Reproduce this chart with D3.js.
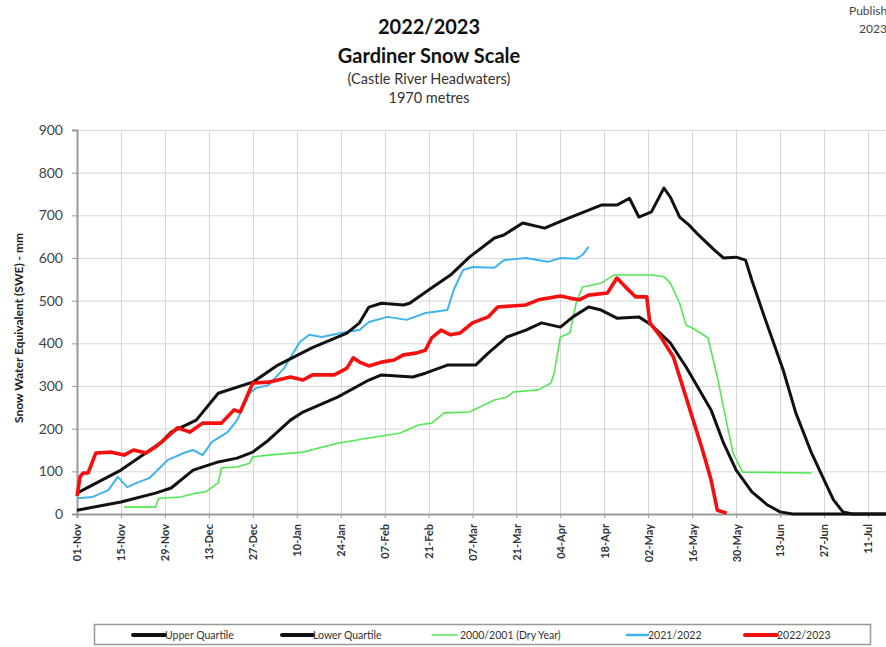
<!DOCTYPE html>
<html>
<head>
<meta charset="utf-8">
<script src="https://cdn.jsdelivr.net/npm/d3@7"></script>
<style>
  body { margin: 0; background: #fff; }
  svg { display: block; font-family: Lato, "Open Sans", sans-serif; }
</style>
</head>
<body>
<script>
// tick labels, every 14 days from 01-Nov (day 0)
var tickLabels = ["01-Nov", "15-Nov", "29-Nov", "13-Dec", "27-Dec", "10-Jan", "24-Jan",
  "07-Feb", "21-Feb", "07-Mar", "21-Mar", "04-Apr", "18-Apr", "02-May", "16-May",
  "30-May", "13-Jun", "27-Jun", "11-Jul"];
var yTicks = [0, 100, 200, 300, 400, 500, 600, 700, 800, 900];

// series: [day since 01-Nov, SWE mm]
var upperQuartile = [[0,49],[14,103],[27,169],[30,192],[38,220],[45,283],[56,309],[64,349],[75,390],
  [86,424],[90,448],[93,485],[97,494],[104,490],[106,494],[112,525],[119,560],[125,602],[133,647],
  [136,654],[142,682],[149,670],[155,689],[167,724],[172,724],[176,740],[179,696],[183,708],[187,764],
  [189,743],[192,696],[195,677],[198,654],[203,619],[206,600],[210,602],[213,595],[215,548],[219,462],
  [225,337],[229,237],[234,143],[238,80],[241,33],[244,5],[247,0],[272,0]];
var lowerQuartile = [[0,9],[14,28],[25,49],[30,61],[37,103],[45,122],[51,131],[56,145],[61,173],
  [68,220],[72,239],[83,274],[93,314],[97,326],[107,321],[111,330],[118,349],[127,349],[131,377],
  [137,415],[143,431],[148,448],[154,438],[158,462],[163,485],[167,478],[172,459],[179,462],
  [183,443],[189,401],[194,345],[202,244],[206,166],[210,103],[215,52],[220,21],[224,5],[228,0],[272,0]];
var dryYear = [[15,16],[25,16],[26,37],[33,40],[38,49],[41,52],[45,73],[46,108],[51,110],[55,119],
  [56,134],[61,138],[72,145],[83,166],[93,178],[103,190],[109,209],[113,213],[117,237],[125,239],
  [133,267],[137,274],[139,286],[147,291],[151,307],[152,330],[154,415],[157,424],[159,494],
  [161,532],[167,541],[171,560],[183,560],[187,556],[189,541],[192,494],[194,443],[196,436],
  [201,413],[204,321],[207,213],[209,143],[212,98],[215,98],[234,96]];
var season2122 = [[0,37],[5,40],[10,56],[13,87],[16,63],[19,73],[23,84],[29,127],[34,143],[37,150],
  [40,138],[43,169],[48,192],[51,220],[55,283],[57,295],[61,302],[66,342],[71,403],[74,420],
  [78,415],[86,427],[90,431],[93,450],[99,462],[105,455],[111,471],[118,478],[120,525],[123,572],
  [126,579],[133,577],[136,595],[143,600],[150,591],[154,600],[159,598],[161,607],[163,626]];
var season2223 = [[0,42],[1,88],[2,96],[3.5,96],[6,143],[11,145],[15,138],[18,150],[22,143],[25,157],
  [27,169],[32,202],[36,192],[40,213],[46,213],[50,244],[52,239],[56,307],[61,309],[68,321],
  [72,314],[75,326],[82,326],[86,342],[88,366],[90,356],[93,347],[97,356],[101,361],[104,373],
  [108,377],[111,384],[113,413],[116,431],[119,420],[122,424],[126,448],[131,462],[134,485],
  [143,490],[147,502],[154,511],[157,506],[160,502],[163,513],[169,518],[172,553],[175,530],
  [178,509],[181.5,509],[182.5,448],[186,415],[190,368],[193,298],[196,227],[199,157],[202,80],
  [204,9],[207,2]];

var legendNames = ["Upper Quartile", "Lower Quartile", "2000/2001  (Dry Year)", "2021/2022", "2022/2023"];

var width = 886, height = 647;
var svg = d3.select("body").append("svg")
  .attr("width", width)
  .attr("height", height);

var x = d3.scaleLinear().domain([0, 272]).range([77, 77 + 272 * 791 / 252]);
var y = d3.scaleLinear().domain([0, 900]).range([514, 130]);
var tickDays = tickLabels.map(function (d, i) { return i * 14; });

// titles
var titles = [
  { t: "2022/2023", y: 34, s: 20, w: "bold" },
  { t: "Gardiner Snow Scale", y: 63, s: 20, w: "bold" },
  { t: "(Castle River Headwaters)", y: 84, s: 14.5, w: "normal" },
  { t: "1970 metres", y: 103, s: 14.5, w: "normal" }
];
svg.selectAll(".title").data(titles).enter().append("text")
  .attr("x", 429).attr("y", function (d) { return d.y; })
  .attr("text-anchor", "middle")
  .style("font-size", function (d) { return d.s + "px"; })
  .style("font-weight", function (d) { return d.w; })
  .style("fill", function (d) { return d.w == "bold" ? "#111" : "#333"; })
  .text(function (d) { return d.t; });

svg.append("text").attr("x", 849).attr("y", 15).style("font-size", "12px").style("fill", "#444").text("Published");
svg.append("text").attr("x", 859).attr("y", 33).style("font-size", "12px").style("fill", "#444").text("2023");

// grid
var grid = svg.append("g").attr("stroke", "#d6d6d6").attr("stroke-width", 1);
grid.selectAll(".h").data(yTicks.slice(1)).enter().append("line")
  .attr("x1", 77).attr("x2", width)
  .attr("y1", function (d) { return y(d) + 0.5; }).attr("y2", function (d) { return y(d) + 0.5; });
grid.selectAll(".v").data(tickDays.slice(1)).enter().append("line")
  .attr("x1", function (d) { return Math.round(x(d)) + 0.5; })
  .attr("x2", function (d) { return Math.round(x(d)) + 0.5; })
  .attr("y1", 130).attr("y2", 514);

// axes
var yAxis = svg.append("g").attr("transform", "translate(77,0)")
  .call(d3.axisLeft(y).tickValues(yTicks).tickSize(5).tickPadding(9));
yAxis.select(".domain").attr("stroke", "#999").attr("stroke-width", 2);
yAxis.selectAll(".tick line").attr("stroke", "#999");
yAxis.selectAll("text").style("font-size", "14px").style("fill", "#444").style("font-family", "Lato, sans-serif");

var xAxis = svg.append("g").attr("transform", "translate(0,514)")
  .call(d3.axisBottom(x).tickValues(tickDays).tickSize(4)
    .tickFormat(function (d, i) { return tickLabels[i]; }));
xAxis.select(".domain").attr("stroke", "#999").attr("stroke-width", 2);
xAxis.selectAll(".tick line").attr("stroke", "#999");
xAxis.selectAll("text")
  .attr("transform", "rotate(-90)")
  .attr("x", -10).attr("y", 0).attr("dy", "0.35em")
  .style("text-anchor", "end")
  .style("font-size", "11px").style("font-weight", "bold").style("fill", "#333")
  .style("font-family", "Lato, sans-serif");

svg.append("text")
  .attr("transform", "translate(23,328) rotate(-90)")
  .attr("text-anchor", "middle")
  .style("font-size", "12px").style("font-weight", "bold").style("fill", "#222")
  .text("Snow Water Equivalent (SWE)  -  mm");

// lines
var line = d3.line()
  .x(function (d) { return x(d[0]); })
  .y(function (d) { return y(d[1]); });

var series = [
  { data: dryYear, color: "#55e655", w: 1.6 },
  { data: season2122, color: "#3fb4ec", w: 2 },
  { data: lowerQuartile, color: "#111", w: 3 },
  { data: upperQuartile, color: "#111", w: 3 },
  { data: season2223, color: "#f50f0f", w: 3.6 }
];
svg.selectAll(".series").data(series).enter().append("path")
  .attr("fill", "none")
  .attr("stroke", function (d) { return d.color; })
  .attr("stroke-width", function (d) { return d.w; })
  .attr("stroke-linejoin", "round")
  .attr("d", function (d) { return line(d.data); });

// legend
svg.append("rect").attr("x", 94.5).attr("y", 624.5).attr("width", 776).attr("height", 20)
  .attr("fill", "#fff").attr("stroke", "#999").attr("stroke-width", 1.5);
var legendItems = [
  { x1: 133, x2: 165, color: "#111", w: 4 },
  { x1: 282, x2: 313, color: "#111", w: 4 },
  { x1: 432, x2: 457, color: "#55e655", w: 1.5 },
  { x1: 627, x2: 648, color: "#3fb4ec", w: 2.5 },
  { x1: 745, x2: 777, color: "#f50f0f", w: 4 }
];
var lg = svg.selectAll(".lg").data(legendItems).enter().append("g");
lg.append("line")
  .attr("x1", function (d) { return d.x1; }).attr("x2", function (d) { return d.x2; })
  .attr("y1", 635).attr("y2", 635)
  .attr("stroke", function (d) { return d.color; })
  .attr("stroke-width", function (d) { return d.w; })
  .attr("stroke-linecap", "round");
lg.append("text")
  .attr("x", function (d, i) { return d.x2 + (i == 2 ? 3 : 0); }).attr("y", 639)
  .style("font-size", "10.5px").style("fill", "#333")
  .text(function (d, i) { return legendNames[i]; });
</script>
</body>
</html>
